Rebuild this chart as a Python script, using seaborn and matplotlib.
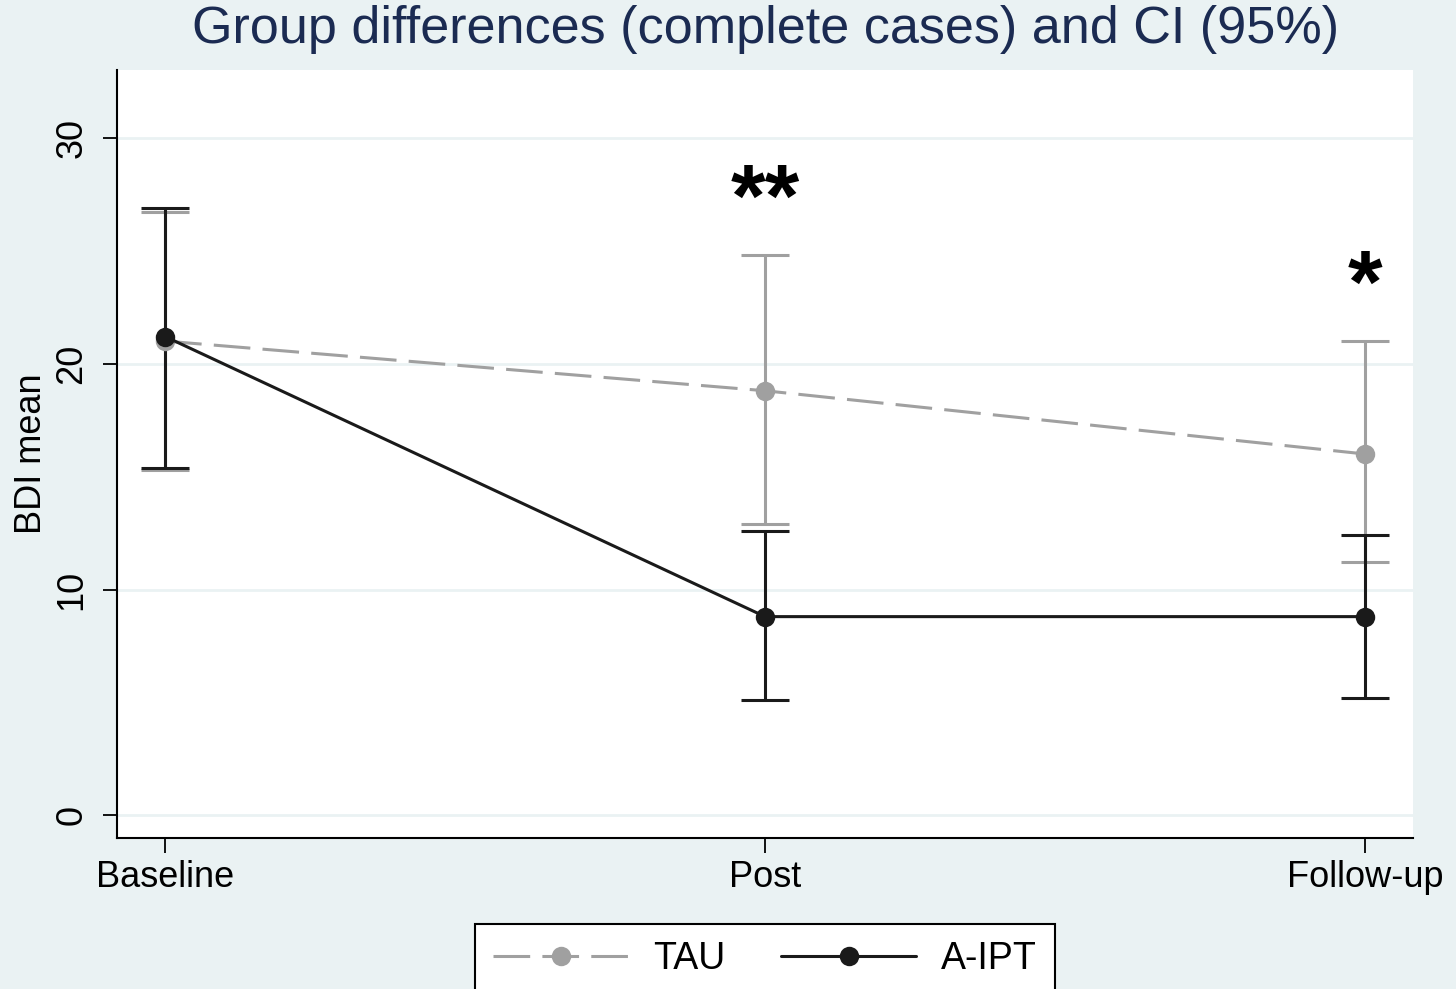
import numpy as np
import pandas as pd
import seaborn as sns
import matplotlib.pyplot as plt
from matplotlib.lines import Line2D
from matplotlib.patches import Rectangle

# data
timepoints = ["Baseline", "Post", "Follow-up"]
groups = ["TAU", "A-IPT"]
tau_mean = [21.0, 18.8, 16.0]
tau_lo = [15.3, 12.9, 11.2]
tau_hi = [26.7, 24.8, 21.0]
aipt_mean = [21.2, 8.8, 8.8]
aipt_lo = [15.4, 5.1, 5.2]
aipt_hi = [26.9, 12.6, 12.4]
stars = ["", "**", "*"]

bg = "#eaf2f3"
colors = {"TAU": "#a0a0a0", "A-IPT": "#1a1a1a"}

sns.set_theme(style="white")
plt.rcParams["font.family"] = ["Liberation Sans", "DejaVu Sans"]
plt.rcParams["text.color"] = "black"
plt.rcParams["xtick.color"] = "black"
plt.rcParams["ytick.color"] = "black"
plt.rcParams["axes.labelcolor"] = "black"

df = pd.DataFrame({
    "time": list(range(3)) * 2,
    "mean": tau_mean + aipt_mean,
    "lo": tau_lo + aipt_lo,
    "hi": tau_hi + aipt_hi,
    "group": ["TAU"] * 3 + ["A-IPT"] * 3,
})

fig = plt.figure(figsize=(14.56, 9.89), dpi=100, facecolor=bg)
ax = fig.add_axes([0.0804, 0.1527, 0.8901, 0.7765])
ax.set_facecolor("white")

# horizontal grid lines
for g in [0, 10, 20, 30]:
    ax.axhline(g, color=bg, lw=2, zorder=0)

# confidence intervals
for grp in groups:
    sub = df[df.group == grp]
    ax.errorbar(sub.time, sub["mean"],
                yerr=[sub["mean"] - sub.lo, sub.hi - sub["mean"]],
                fmt="none", ecolor=colors[grp], elinewidth=2.2,
                capsize=17, capthick=2.2, zorder=2 if grp == "TAU" else 3)

# means
sns.lineplot(data=df, x="time", y="mean", hue="group", style="group",
             hue_order=groups, style_order=groups, palette=colors,
             markers={"TAU": "o", "A-IPT": "o"},
             dashes={"TAU": (12, 4), "A-IPT": ""},
             markersize=14, markeredgewidth=0, lw=2.2,
             legend=False, ax=ax, zorder=4)

# significance stars above the upper CI
for i, s in enumerate(stars):
    if s:
        top = max(tau_hi[i], aipt_hi[i])
        ax.text(i, top + 0.45, s, ha="center", va="bottom",
                fontsize=64, fontweight="bold", color="black")

ax.set_xlim(-0.08, 2.08)
ax.set_ylim(-1.0, 33.0)
ax.set_xticks(range(3))
ax.set_xticklabels(timepoints, fontsize=26)
ax.set_yticks([0, 10, 20, 30])
ax.set_yticklabels(["0", "10", "20", "30"], fontsize=26, rotation=90, va="center")
ax.set_xlabel("")
ax.set_ylabel("BDI mean", fontsize=26, labelpad=4)
ax.tick_params(axis="x", length=11, width=1.3, pad=5, direction="out")
ax.tick_params(axis="y", length=10, width=1.3, pad=10, direction="out")
ax.tick_params(bottom=True, left=True)

sns.despine(ax=ax)
for sp in ["left", "bottom"]:
    ax.spines[sp].set_color("black")
    ax.spines[sp].set_linewidth(1.5)

fig.text(0.526, 1 - 30 / 989, "Group differences (complete cases) and CI (95%)",
         ha="center", va="center", fontsize=37.5, color="#1b2b52")

# legend box runs off the bottom edge, as in the original export
fig.patches.append(Rectangle((475 / 1456, -0.05), 580 / 1456, 0.05 + 1 - 924 / 989,
                             transform=fig.transFigure, facecolor="white",
                             edgecolor="black", lw=1.5, zorder=1))
handles = [
    Line2D([], [], color=colors["TAU"], lw=2.2, dashes=(12, 4), marker="o", markersize=14, markeredgewidth=0),
    Line2D([], [], color=colors["A-IPT"], lw=2.2, marker="o", markersize=14, markeredgewidth=0),
]
leg = fig.legend(handles, groups, loc="center", bbox_to_anchor=(0.5254, 1 - 959 / 989),
                 ncol=2, fontsize=27, frameon=False, handlelength=3.6,
                 handletextpad=0.65, columnspacing=1.5, borderpad=0, borderaxespad=0)
leg.set_zorder(2)

plt.savefig("out.png", dpi=100, facecolor=bg)
